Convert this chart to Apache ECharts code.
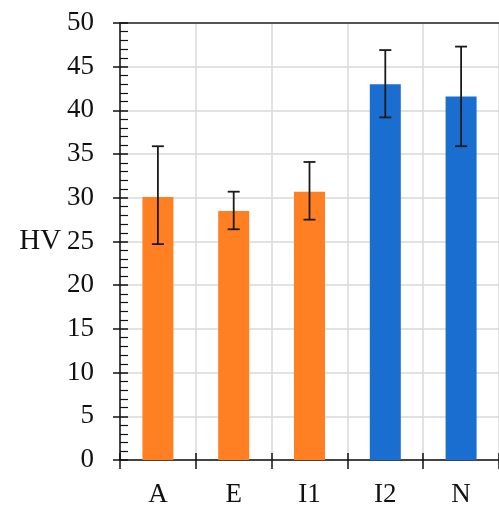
<!DOCTYPE html>
<html><head><meta charset="utf-8">
<script src="https://cdn.jsdelivr.net/npm/echarts@6/dist/echarts.min.js"></script>
<style>html,body{margin:0;padding:0;background:#fff}#c{width:499px;height:509px}</style>
</head><body><div id="c"></div>
<script>
const categories = ['A', 'E', 'I1', 'I2', 'N'];
const means = [30.1, 28.5, 30.7, 43.0, 41.6];
const errLow = [24.7, 26.4, 27.5, 39.2, 35.9];
const errHigh = [35.9, 30.7, 34.1, 46.9, 47.3];
const barColors = ['#FF7F22', '#FF7F22', '#FF7F22', '#1A6ECF', '#1A6ECF'];
const yTicks = [0, 5, 10, 15, 20, 25, 30, 35, 40, 45, 50];

const font = 'Liberation Serif';
const gridBox = { left: 120, top: 23, width: 385, height: 437 };
const chart = echarts.init(document.getElementById('c'));
const hidden = { show: false };

chart.setOption({
  animation: false,
  grid: [Object.assign({}, gridBox), Object.assign({}, gridBox), Object.assign({}, gridBox)],
  xAxis: [
    { type: 'category', gridIndex: 0, position: 'bottom', data: categories,
      axisLine: { lineStyle: { color: '#111', width: 1.5 } },
      axisTick: { show: true, length: 9, lineStyle: { color: '#111', width: 1.5 } },
      axisLabel: { color: '#111', fontFamily: font, fontSize: 27, margin: 21 },
      splitLine: { show: true, lineStyle: { color: '#d8d8d8', width: 1.5 } } },
    { type: 'category', gridIndex: 0, position: 'top', data: categories,
      axisLine: { show: true, lineStyle: { color: '#555', width: 2 } },
      axisTick: hidden, axisLabel: hidden, splitLine: hidden },
    { type: 'category', gridIndex: 1, position: 'bottom', data: categories,
      axisLine: hidden,
      axisTick: { show: true, inside: true, length: 7, lineStyle: { color: '#111', width: 1.5 } },
      axisLabel: hidden, splitLine: hidden },
    { type: 'category', gridIndex: 2, position: 'bottom', data: categories,
      axisLine: hidden,
      axisTick: { show: true, inside: true, alignWithLabel: true, length: 6, lineStyle: { color: '#111', width: 1.5 } },
      axisLabel: hidden, splitLine: hidden }
  ],
  yAxis: [
    { type: 'value', gridIndex: 0, min: yTicks[0], max: yTicks[yTicks.length - 1], interval: 5,
      name: 'HV', nameLocation: 'middle', nameRotate: 0, nameGap: 58,
      nameTextStyle: { color: '#111', fontFamily: font, fontSize: 29 },
      axisLine: { show: true, lineStyle: { color: '#111', width: 1.5 } },
      axisTick: { show: true, length: 7, lineStyle: { color: '#111', width: 1.5 } },
      axisLabel: { color: '#111', fontFamily: font, fontSize: 27, margin: 26 },
      splitLine: { show: true, lineStyle: { color: '#d8d8d8', width: 1.5 } } },
    { type: 'value', gridIndex: 1, min: 0, max: 50, interval: 5,
      axisLine: hidden,
      axisTick: { show: true, inside: true, length: 8, lineStyle: { color: '#111', width: 1.5 } },
      minorTick: { show: true, splitNumber: 5, length: 8, lineStyle: { color: '#111', width: 1.2 } },
      axisLabel: hidden, splitLine: hidden },
    { type: 'value', gridIndex: 2, min: 0, max: 50, interval: 5,
      axisLine: hidden, axisTick: hidden, axisLabel: hidden, splitLine: hidden }
  ],
  series: [
    { type: 'bar', xAxisIndex: 0, yAxisIndex: 0, barWidth: 31, z: 3,
      data: means.map((v, i) => ({ value: v, itemStyle: { color: barColors[i] } })) },
    { type: 'custom', xAxisIndex: 0, yAxisIndex: 0, z: 5,
      data: categories.map((c, i) => [i, errLow[i], errHigh[i]]),
      renderItem: function (params, api) {
        const lo = api.coord([api.value(0), api.value(1)]);
        const hi = api.coord([api.value(0), api.value(2)]);
        const hw = 6;
        const st = { stroke: '#1a1a1a', lineWidth: 1.8 };
        return { type: 'group', children: [
          { type: 'line', shape: { x1: hi[0], y1: hi[1], x2: lo[0], y2: lo[1] }, style: st },
          { type: 'line', shape: { x1: hi[0] - hw, y1: hi[1], x2: hi[0] + hw, y2: hi[1] }, style: st },
          { type: 'line', shape: { x1: lo[0] - hw, y1: lo[1], x2: lo[0] + hw, y2: lo[1] }, style: st }
        ]};
      } }
  ]
});
</script></body></html>
